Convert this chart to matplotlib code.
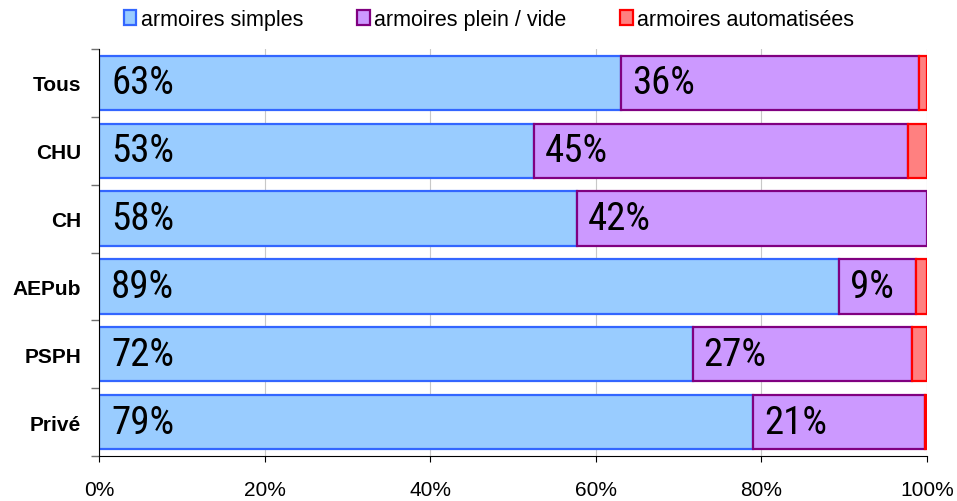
import matplotlib
matplotlib.use('Agg')
import matplotlib.pyplot as plt
from matplotlib import font_manager
import numpy as np

categories = ['Tous', 'CHU', 'CH', 'AEPub', 'PSPH', 'Privé']
simples = [63.0, 52.5, 57.7, 89.4, 71.7, 79.0]
plein_vide = [36.0, 45.2, 42.3, 9.3, 26.5, 20.7]
automatisees = [1.0, 2.3, 0.0, 1.3, 1.8, 0.3]
labels_simples = ['63%', '53%', '58%', '89%', '72%', '79%']
labels_plein = ['36%', '45%', '42%', '9%', '27%', '21%']
series_names = ['armoires simples', 'armoires plein / vide', 'armoires automatisées']
xtick_values = [0, 20, 40, 60, 80, 100]
xtick_labels = ['0%', '20%', '40%', '60%', '80%', '100%']

names = {f.name for f in font_manager.fontManager.ttflist}
base_font = 'Liberation Sans' if 'Liberation Sans' in names else 'DejaVu Sans'
narrow_font = base_font
label_size = 28
for cand, size in [('Arial Narrow', 27), ('Liberation Sans Narrow', 27),
                   ('Roboto Condensed', 28), ('Archivo Narrow', 28), ('Barlow Semi Condensed', 27)]:
    if cand in names:
        narrow_font = cand
        label_size = size
        break
plt.rcParams['font.family'] = [base_font, 'DejaVu Sans']

fig = plt.figure(figsize=(9.57, 5.02), dpi=100)
ax = fig.add_axes([99/957, 1 - 457/502, 828/957, 407/502])

y = np.arange(len(categories))
h = 0.8
face = ['#99CCFF', '#CC99FF', '#FF8080']
edge = ['#3366FF', '#800080', '#FF0000']
lw = 1.6

b1 = ax.barh(y, simples, height=h, color=face[0], edgecolor=edge[0], linewidth=lw, zorder=2)
b2 = ax.barh(y, plein_vide, left=simples, height=h, color=face[1], edgecolor=edge[1], linewidth=lw, zorder=2)
left3 = [a + b for a, b in zip(simples, plein_vide)]
idx = [i for i, v in enumerate(automatisees) if v > 0]
b3 = ax.barh([y[i] for i in idx], [automatisees[i] for i in idx], left=[left3[i] for i in idx],
             height=h, color=face[2], edgecolor=edge[2], linewidth=lw, zorder=2)

for i in range(len(categories)):
    ax.annotate(labels_simples[i], (0, y[i]), xytext=(12, 0), textcoords='offset pixels',
                va='center', ha='left', fontsize=label_size, family=[narrow_font, 'DejaVu Sans'],
                color='black', zorder=3)
    ax.annotate(labels_plein[i], (simples[i], y[i]), xytext=(11, 0), textcoords='offset pixels',
                va='center', ha='left', fontsize=label_size, family=[narrow_font, 'DejaVu Sans'],
                color='black', zorder=3)

ax.set_xlim(0, 100)
ax.set_ylim(len(categories) - 0.5, -0.5)
ax.set_xticks(xtick_values)
ax.set_xticklabels(xtick_labels, fontsize=15)
ax.set_yticks(y)
ax.set_yticklabels(categories, fontsize=15, fontweight='bold')
ax.set_yticks(np.arange(-0.5, len(categories), 1.0), minor=True)
ax.tick_params(axis='y', which='major', length=0, pad=13)
ax.tick_params(axis='y', which='minor', length=5.5, width=1, color='#707070', direction='out')
ax.tick_params(axis='x', which='major', length=4, width=0.8, direction='out', pad=13.5)

ax.grid(axis='x', color='#C8C8C8', linewidth=0.8, zorder=0)
ax.set_axisbelow(True)
for s in ['top', 'right']:
    ax.spines[s].set_visible(False)
for s in ['left', 'bottom']:
    ax.spines[s].set_color('black')
    ax.spines[s].set_linewidth(0.8)

leg = fig.legend([b1, b2, b3], series_names, loc='center', bbox_to_anchor=(0.511, 0.96),
                 ncol=3, frameon=False, fontsize=15.5, handlelength=0.6, handleheight=0.7,
                 handletextpad=0.2, columnspacing=2.5)

fig.savefig('out.png', dpi=100)
